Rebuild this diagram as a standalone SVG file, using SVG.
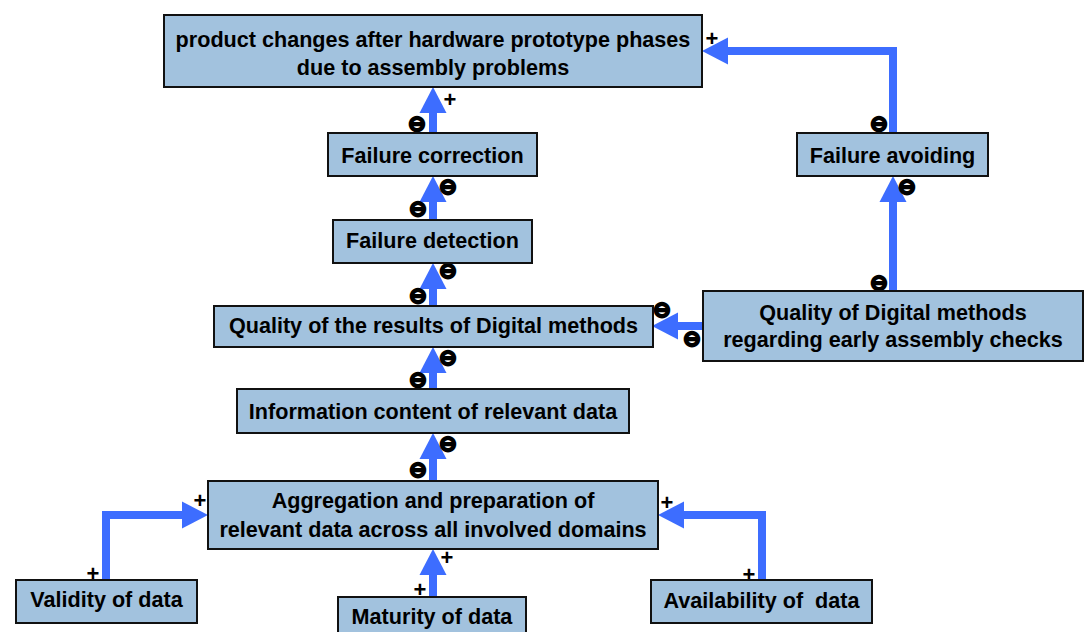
<svg xmlns="http://www.w3.org/2000/svg" width="1092" height="632" viewBox="0 0 1092 632">
<style>
.box{fill:#a2c2de;stroke:#111;stroke-width:2}
.lbl{font-family:"Liberation Sans",Arial,sans-serif;font-weight:bold;font-size:21.6px;fill:#000;text-anchor:middle}
.con{fill:none;stroke:#3d6dff;stroke-width:8;stroke-linejoin:miter}
.plus{font-family:"Liberation Sans",Arial,sans-serif;font-weight:bold;font-size:22px;fill:#000;text-anchor:middle}
.neg{font-family:"DejaVu Sans",sans-serif;font-weight:bold;font-size:22px;fill:#000;stroke:#000;stroke-width:2.2;text-anchor:middle}
</style>
<defs>
<marker id="ah" viewBox="0 -14 26 28" markerWidth="26" markerHeight="28" markerUnits="userSpaceOnUse" refX="6" refY="0" orient="auto">
<path d="M0,-13.5 L26,0 L0,13.5 Z" fill="#3d6dff"/>
</marker>
</defs>
<rect width="1092" height="632" fill="#fff"/>
<g id="connectors">
<path class="con" d="M433,132 V107" marker-end="url(#ah)"/>
<path class="con" d="M433,220 V196" marker-end="url(#ah)"/>
<path class="con" d="M433,306 V283" marker-end="url(#ah)"/>
<path class="con" d="M433,389 V367" marker-end="url(#ah)"/>
<path class="con" d="M433,481 V453" marker-end="url(#ah)"/>
<path class="con" d="M433,597 V569" marker-end="url(#ah)"/>
<path class="con" d="M106,580 V515 H188" marker-end="url(#ah)"/>
<path class="con" d="M762,580 V515 H678" marker-end="url(#ah)"/>
<path class="con" d="M703,326 H672" marker-end="url(#ah)"/>
<path class="con" d="M893,291 V196" marker-end="url(#ah)"/>
<path class="con" d="M893,133 V51 H722" marker-end="url(#ah)"/>
<g id="polarities">
<text class="plus" x="450" y="107">+</text>
<text class="neg" x="417" y="131">⊖</text>
<text class="neg" x="448" y="194">⊖</text>
<text class="neg" x="418" y="216">⊖</text>
<text class="neg" x="448" y="278">⊖</text>
<text class="neg" x="418" y="303">⊖</text>
<text class="neg" x="448" y="365">⊖</text>
<text class="neg" x="418" y="387">⊖</text>
<text class="neg" x="448" y="451">⊖</text>
<text class="neg" x="418" y="477">⊖</text>
<text class="plus" x="447" y="565">+</text>
<text class="plus" x="420" y="597">+</text>
<text class="plus" x="200" y="508">+</text>
<text class="plus" x="93" y="581">+</text>
<text class="plus" x="667" y="510">+</text>
<text class="plus" x="749" y="582">+</text>
<text class="neg" x="662" y="317">⊖</text>
<text class="neg" x="692" y="346">⊖</text>
<text class="neg" x="907" y="194">⊖</text>
<text class="neg" x="879" y="290">⊖</text>
<text class="neg" x="879" y="131">⊖</text>
<text class="plus" x="712" y="46">+</text>
</g>
</g>
<g id="n-product-changes">
<rect class="box" x="164" y="15" width="538" height="72"/>
<text class="lbl" x="433" y="47">product changes after hardware prototype phases</text>
<text class="lbl" x="433" y="75">due to assembly problems</text>
</g>
<g id="n-failure-correction">
<rect class="box" x="328" y="133" width="209" height="43"/>
<text class="lbl" x="432.5" y="163">Failure correction</text>
</g>
<g id="n-failure-detection">
<rect class="box" x="333" y="220" width="199" height="43"/>
<text class="lbl" x="432.5" y="248">Failure detection</text>
</g>
<g id="n-quality-results">
<rect class="box" x="214" y="306" width="439" height="41"/>
<text class="lbl" x="433.5" y="333">Quality of the results of Digital methods</text>
</g>
<g id="n-information-content">
<rect class="box" x="237" y="389" width="392" height="44"/>
<text class="lbl" x="433" y="419">Information content of relevant data</text>
</g>
<g id="n-aggregation">
<rect class="box" x="208" y="481" width="450" height="68"/>
<text class="lbl" x="433" y="508">Aggregation and preparation of</text>
<text class="lbl" x="433" y="537">relevant data across all involved domains</text>
</g>
<g id="n-validity">
<rect class="box" x="16" y="580" width="181" height="43"/>
<text class="lbl" x="106.5" y="607">Validity of data</text>
</g>
<g id="n-maturity">
<rect class="box" x="338" y="597" width="188" height="45"/>
<text class="lbl" x="432" y="624">Maturity of data</text>
</g>
<g id="n-availability">
<rect class="box" x="651" y="580" width="221" height="43"/>
<text class="lbl" x="761.5" y="608" xml:space="preserve">Availability of  data</text>
</g>
<g id="n-failure-avoiding">
<rect class="box" x="797" y="133" width="191" height="43"/>
<text class="lbl" x="892.5" y="163">Failure avoiding</text>
</g>
<g id="n-quality-digital-methods">
<rect class="box" x="703" y="291" width="380" height="70"/>
<text class="lbl" x="893" y="320">Quality of Digital methods</text>
<text class="lbl" x="893" y="347">regarding early assembly checks</text>
</g>
</svg>
